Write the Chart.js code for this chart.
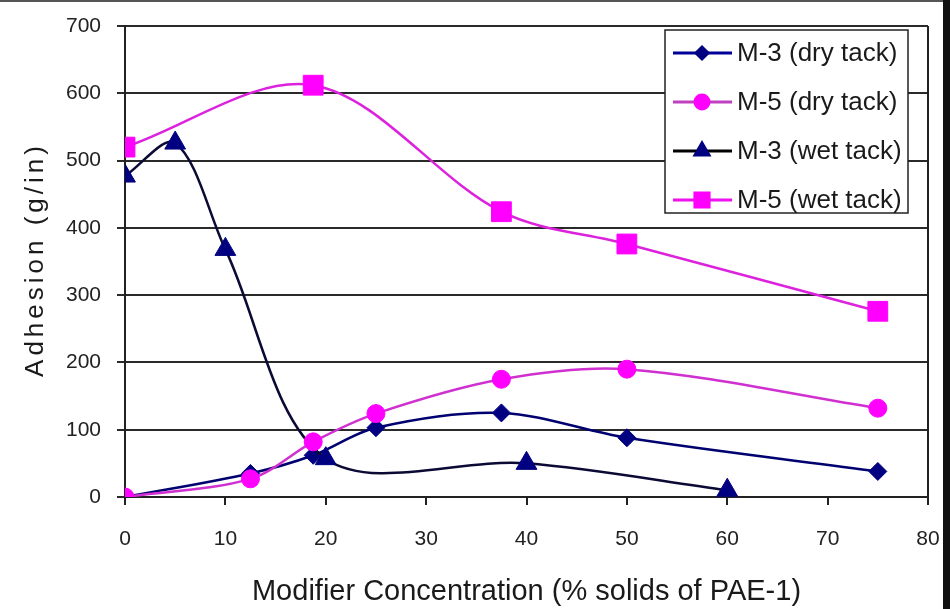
<!DOCTYPE html>
<html>
<head>
<meta charset="utf-8">
<script src="https://cdn.jsdelivr.net/npm/chart.js@4.4.1/dist/chart.umd.min.js"></script>
<style>
  html, body { margin: 0; padding: 0; background: #ffffff; }
  #wrap { width: 950px; height: 609px; position: relative; }
  canvas { display: block; }
</style>
</head>
<body>
<div id="wrap"><canvas id="adhesionChart" width="950" height="609"></canvas></div>
<script>
// Modifier concentration (% solids of PAE-1) and adhesion (g/in) per series
const concentrationDry = [0, 12.5, 18.75, 25, 37.5, 50, 75];
const m3DryTack = [0, 35, 62, 103, 125, 88, 38];
const m5DryTack = [0, 27, 82, 124, 175, 190, 132];

const concentrationM3Wet = [0, 5, 10, 20, 40, 60];
const m3WetTack = [477, 526, 368, 57, 50, 10];

const concentrationM5Wet = [0, 18.75, 37.5, 50, 75];
const m5WetTack = [520, 612, 424, 376, 276];

const seriesNames = ['M-3 (dry tack)', 'M-5 (dry tack)', 'M-3 (wet tack)', 'M-5 (wet tack)'];
const xAxisTitle = 'Modifier Concentration (% solids of PAE-1)';
const yAxisTitle = 'Adhesion (g/in)';

const FONT = "'Liberation Sans', Arial, sans-serif";

function toPoints(xs, ys) {
  return xs.map((x, i) => ({ x: x, y: ys[i] }));
}

const datasets = [
  {
    label: seriesNames[0],
    data: toPoints(concentrationDry, m3DryTack),
    borderColor: '#000070',
    backgroundColor: '#000080',
    pointBackgroundColor: '#000080',
    pointBorderColor: '#000080',
    pointStyle: 'rectRot',
    pointRadius: 9,
    legendLine: '#000099',
    legendRadius: 6,
    order: 4
  },
  {
    label: seriesNames[1],
    data: toPoints(concentrationDry, m5DryTack),
    borderColor: '#d030d0',
    backgroundColor: '#ff00ff',
    pointBackgroundColor: '#ff00ff',
    pointBorderColor: '#ff00ff',
    pointStyle: 'circle',
    pointRadius: 9,
    legendLine: '#c040c0',
    legendRadius: 7,
    order: 2
  },
  {
    label: seriesNames[2],
    data: toPoints(concentrationM3Wet, m3WetTack),
    borderColor: '#0a0a35',
    backgroundColor: '#000080',
    pointBackgroundColor: '#000080',
    pointBorderColor: '#000080',
    pointStyle: 'triangle',
    pointRadius: 12,
    legendLine: '#000000',
    legendRadius: 8,
    order: 3
  },
  {
    label: seriesNames[3],
    data: toPoints(concentrationM5Wet, m5WetTack),
    borderColor: '#dd22dd',
    backgroundColor: '#ff00ff',
    pointBackgroundColor: '#ff00ff',
    pointBorderColor: '#ff00ff',
    pointStyle: 'rect',
    pointRadius: 14,
    legendLine: '#ee11ee',
    legendRadius: 10,
    order: 1
  }
];

// Boxed legend in the upper right of the plot: line + marker + label per series
const boxLegend = {
  id: 'boxLegend',
  afterDatasetsDraw(chart) {
    const ctx = chart.ctx;
    const area = chart.chartArea;
    const w = 243, h = 183;
    const left = area.right - 20 - w;
    const top = area.top + 4;
    ctx.save();
    ctx.fillStyle = '#ffffff';
    ctx.fillRect(left, top, w, h);
    ctx.strokeStyle = '#222222';
    ctx.lineWidth = 1.5;
    ctx.strokeRect(left, top, w, h);
    ctx.font = '26px ' + FONT;
    ctx.textBaseline = 'middle';
    ctx.textAlign = 'left';
    chart.data.datasets.forEach((ds, i) => {
      const y = top + 23 + i * 49;
      ctx.strokeStyle = ds.legendLine;
      ctx.lineWidth = 3;
      ctx.beginPath();
      ctx.moveTo(left + 8, y);
      ctx.lineTo(left + 67, y);
      ctx.stroke();
      ctx.fillStyle = ds.pointBackgroundColor;
      ctx.strokeStyle = ds.pointBorderColor;
      Chart.helpers.drawPoint(ctx, {
        pointStyle: ds.pointStyle,
        rotation: 0,
        radius: ds.legendRadius,
        borderWidth: 1
      }, left + 37, y);
      ctx.fillStyle = '#1a1a1a';
      ctx.fillText(ds.label, left + 72, y + 1);
    });
    ctx.restore();
  }
};

// Right edge of the plot frame
const plotFrame = {
  id: 'plotFrame',
  beforeDatasetsDraw(chart) {
    const ctx = chart.ctx;
    const a = chart.chartArea;
    ctx.save();
    ctx.strokeStyle = '#222222';
    ctx.lineWidth = 2;
    ctx.beginPath();
    ctx.moveTo(a.right, a.top);
    ctx.lineTo(a.right, a.bottom);
    ctx.stroke();
    ctx.restore();
  }
};

// Spaced-out vertical axis title and the outer picture frame
const extras = {
  id: 'extras',
  afterDraw(chart) {
    const ctx = chart.ctx;
    const a = chart.chartArea;
    ctx.save();
    ctx.translate(36, (a.top + a.bottom) / 2);
    ctx.rotate(-Math.PI / 2);
    ctx.font = '26px ' + FONT;
    ctx.fillStyle = '#1a1a1a';
    ctx.textAlign = 'center';
    ctx.textBaseline = 'middle';
    try { ctx.letterSpacing = '4px'; } catch (e) {}
    ctx.fillText(yAxisTitle, 2, 0);
    ctx.restore();

    ctx.save();
    ctx.fillStyle = '#555555';
    ctx.fillRect(0, 0, chart.width, 2);
    ctx.fillStyle = '#111111';
    ctx.fillRect(chart.width - 7, 0, 7, chart.height);
    ctx.restore();
  }
};

new Chart(document.getElementById('adhesionChart'), {
  type: 'scatter',
  data: { datasets: datasets },
  plugins: [plotFrame, boxLegend, extras],
  options: {
    responsive: false,
    devicePixelRatio: 1,
    animation: false,
    showLine: true,
    layout: { padding: { top: 26, right: 22, left: 0, bottom: 0 } },
    elements: {
      line: { borderWidth: 2.5, tension: 0.33, fill: false },
      point: { borderWidth: 1, hoverRadius: 8 }
    },
    plugins: {
      legend: { display: false },
      tooltip: { enabled: false }
    },
    scales: {
      x: {
        type: 'linear',
        min: 0,
        max: 80,
        afterFit(scale) {
          scale.height = 112;
          scale.paddingLeft = 0;
          scale.paddingRight = 0;
        },
        ticks: {
          stepSize: 10,
          padding: 22,
          color: '#222222',
          font: { family: FONT, size: 21 }
        },
        grid: {
          drawOnChartArea: false,
          drawTicks: true,
          tickLength: 8,
          color: '#222222',
          lineWidth: 2
        },
        border: { display: true, color: '#222222', width: 2 },
        title: {
          display: true,
          text: xAxisTitle,
          color: '#1a1a1a',
          font: { family: FONT, size: 29 },
          padding: { top: 0, bottom: 0 }
        }
      },
      y: {
        type: 'linear',
        min: 0,
        max: 700,
        afterFit(scale) {
          scale.width = 125;
          scale.paddingTop = 0;
          scale.paddingBottom = 0;
        },
        ticks: {
          stepSize: 100,
          padding: 16,
          color: '#222222',
          font: { family: FONT, size: 21 }
        },
        grid: {
          drawTicks: true,
          tickLength: 8,
          color: '#2a2a2a',
          lineWidth: 2
        },
        border: { display: true, color: '#222222', width: 2 }
      }
    }
  }
});
</script>
</body>
</html>
